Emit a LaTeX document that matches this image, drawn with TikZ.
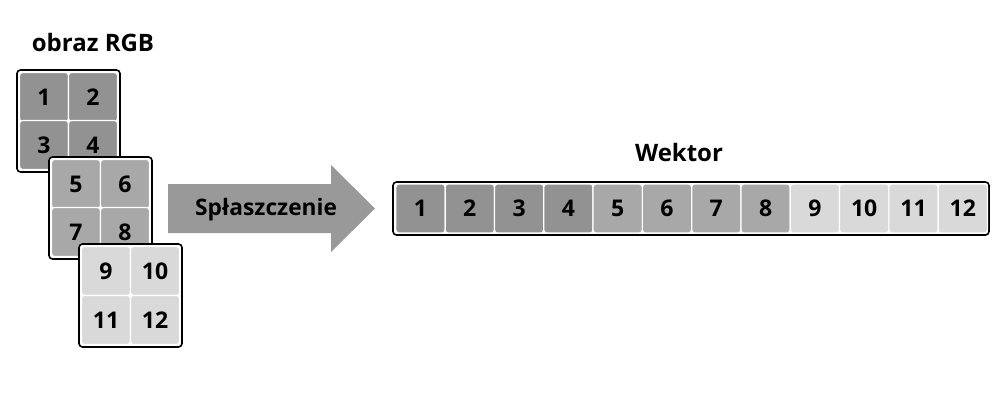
\documentclass[tikz,border=0pt]{standalone}
\usepackage{fontspec}
\setmainfont{Open Sans}
\definecolor{darkc}{HTML}{929292}
\definecolor{midc}{HTML}{A8A8A8}
\definecolor{lightc}{HTML}{D9D9D9}
\definecolor{arrowc}{HTML}{999999}
\begin{document}
\begin{tikzpicture}[x=1pt,y=-1pt,
  frame/.style={draw=black, line width=1.6pt, rounded corners=3.5pt, fill=white},
  cell/.style={draw=white, line width=1.2pt, rounded corners=3pt, minimum width=49pt, minimum height=49pt, inner sep=0pt, font=\bfseries\fontsize{23}{25}\selectfont},
  vcell/.style={cell, minimum width=49.3pt},
  title/.style={font=\bfseries\fontsize{24}{26}\selectfont, inner sep=0pt},
  arrowtext/.style={font=\bfseries\fontsize{22.7}{25}\selectfont, inner sep=0pt}
]
\useasboundingbox (0,0) rectangle (1000,400);
\node[title] (t1) at (93,42) {obraz RGB};
% grid 1
\draw[frame] (17,70) rectangle (120,172);
\node[cell, fill=darkc] (g1) at (44,97) {1};
\node[cell, fill=darkc] (g2) at (93,97) {2};
\node[cell, fill=darkc] (g3) at (44,145) {3};
\node[cell, fill=darkc] (g4) at (93,145) {4};
% grid 2
\draw[frame] (49,157) rectangle (152,259);
\node[cell, fill=midc] (g5) at (76,184) {5};
\node[cell, fill=midc] (g6) at (125,184) {6};
\node[cell, fill=midc] (g7) at (76,232) {7};
\node[cell, fill=midc] (g8) at (125,232) {8};
% grid 3
\draw[frame] (79,244) rectangle (182,347);
\node[cell, fill=lightc] (g9) at (106,271) {9};
\node[cell, fill=lightc] (g10) at (155,271) {10};
\node[cell, fill=lightc] (g11) at (106,320) {11};
\node[cell, fill=lightc] (g12) at (155,320) {12};
% arrow
\fill[arrowc] (168,184) -- (331,184) -- (331,165) -- (375,208.5) -- (331,252) -- (331,233) -- (168,233) -- cycle;
\node[arrowtext] (arr) at (266,210) {Spłaszczenie};
% vector
\node[title] (t2) at (679,152) {Wektor};
\draw[frame] (393,182) rectangle (989,235);
\foreach \i/\c in {1/darkc,2/darkc,3/darkc,4/darkc,5/midc,6/midc,7/midc,8/midc,9/lightc,10/lightc,11/lightc,12/lightc}{
  \node[vcell, fill=\c] (v\i) at ({420.5+49.3*(\i-1)},208.5) {\i};
}
\end{tikzpicture}
\end{document}
